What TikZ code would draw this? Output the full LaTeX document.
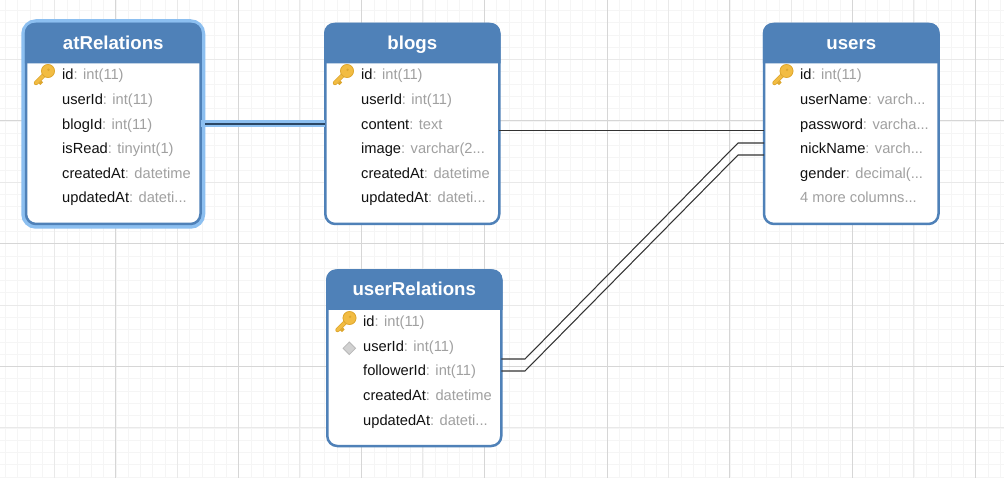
\documentclass[tikz,border=0pt]{standalone}
\usepackage{fontspec}
\setmainfont{Liberation Sans}
\definecolor{tblue}{HTML}{4F81B8}
\definecolor{glow}{HTML}{8CBFF0}
\definecolor{gmaj}{HTML}{D6D6D6}
\definecolor{gmed}{HTML}{E9E9E9}
\definecolor{gmin}{HTML}{F5F5F5}
\definecolor{typec}{HTML}{A0A0A0}
\definecolor{namec}{HTML}{111111}
\definecolor{relc}{HTML}{333333}
\definecolor{keyc}{HTML}{F2BC42}
\definecolor{keyd}{HTML}{DDA62E}
\tikzset{
  tablebox/.style={draw=tblue,line width=2.5pt,fill=white,rounded corners=10pt,inner sep=0pt,outer sep=0pt},
  selectedbox/.style={preaction={draw=glow,line width=9.5pt}},
  headfill/.style={fill=tblue},
  titletext/.style={anchor=base,text=white,font=\fontsize{18.67}{20}\selectfont\bfseries,inner sep=0pt},
  rowtext/.style={anchor=base west,inner sep=0pt,text=namec,font=\fontsize{14.67}{16}\selectfont},
  relline/.style={draw=relc,line width=1.05pt},
  selband/.style={draw=glow,line width=7pt},
  selcore/.style={draw=tblue!55!black,line width=1.8pt,shorten <=4.5pt},
}
% name, left, top, width, height, extra options, title
\newcommand{\dbtable}[7]{%
  \node[tablebox,#6,minimum width=#4pt,minimum height=#5pt] (#1) at ({#2+#4/2},{#3+#5/2}) {};
  \fill[headfill] (#2-1.2,#3+39.5) [rounded corners=10pt] -- (#2-1.2,#3-1.2) -- (#2+#4+1.2,#3-1.2) [sharp corners] -- (#2+#4+1.2,#3+39.5) -- cycle;
  \node[titletext] (#1-title) at ({#2+#4/2},#3+25.3) {#7};
}
% node name, x, baseline y, field, type
\newcommand{\dbrow}[5]{\node[rowtext] (#1) at (#2,#3+.7) {#4\textcolor{typec}{#5}};}
\newcommand{\dbkey}[2]{%
  \begin{scope}[shift={(#1,#2)}]
    \draw[keyd,line width=4.4pt,line cap=round] (0,0) -- (-12,12);
    \draw[keyc,line width=3pt,line cap=round] (0,0) -- (-12,12);
    \fill[keyd] (-9.5,12.5) -- (-6.5,9.5) -- (-5,11.5) -- (-7.5,14) -- cycle;
    \fill[keyc] (0,0) circle (6.8);
    \draw[keyd,line width=.7pt] (0,0) circle (6.5);
    \fill[keyd] (.5,-1.2) circle (1.3);
  \end{scope}
}
\begin{document}
\begin{tikzpicture}[x=1pt,y=-1pt]
\useasboundingbox (0,0) rectangle (1004,478);
\fill[white] (0,0) rectangle (1004,478);
% grid
\foreach \i in {0,...,81} {\draw[gmin,line width=.8pt] ({5.5+12.28*\i},0) -- ({5.5+12.28*\i},478);}
\foreach \i in {0,...,38} {\draw[gmin,line width=.8pt] (0,{10.4+12.28*\i}) -- (1004,{10.4+12.28*\i});}
\foreach \i in {0,...,7} {\draw[gmed,line width=1pt] ({54.3+122.8*\i},0) -- ({54.3+122.8*\i},478);}
\foreach \i in {0,...,3} {\draw[gmed,line width=1pt] (0,{59.5+122.8*\i}) -- (1004,{59.5+122.8*\i});}
\foreach \i in {0,...,7} {\draw[gmaj,line width=.8pt] ({115.7+122.8*\i},0) -- ({115.7+122.8*\i},478);}
\foreach \i in {0,...,2} {\draw[gmaj,line width=.8pt] (0,{120.9+122.8*\i}) -- (1004,{120.9+122.8*\i});}

% tables
\dbtable{atRelations}{26}{24}{174.5}{200}{selectedbox}{atRelations}
\dbtable{blogs}{325.3}{24}{174}{200}{}{blogs}
\dbtable{users}{764}{24}{174.5}{200}{}{users}
\dbtable{userRelations}{327.3}{270.5}{174}{175.5}{}{userRelations}

% connectors
\draw[selband] (atRelations.east |- 0,124) -- (blogs.west |- 0,124);
\draw[selcore] (atRelations.east |- 0,124) -- (blogs.west |- 0,124);
\draw[relline] (blogs.east |- 0,130.5) -- (users.west |- 0,130.5);
\draw[relline] (userRelations.east |- 0,359) -- (525,359) -- (738,143) -- (users.west |- 0,143);
\draw[relline] (userRelations.east |- 0,371) -- (525,371) -- (738,155) -- (users.west |- 0,155);

% atRelations rows
\dbkey{48}{71}
\dbrow{at1}{62}{79}{id}{: int(11)}
\dbrow{at2}{62}{104}{userId}{: int(11)}
\dbrow{at3}{62}{129}{blogId}{: int(11)}
\dbrow{at4}{62}{153}{isRead}{: tinyint(1)}
\dbrow{at5}{62}{178}{createdAt}{: datetime}
\dbrow{at6}{62}{202}{updatedAt}{: dateti...}
% blogs rows
\dbkey{347}{71}
\dbrow{bl1}{361}{79}{id}{: int(11)}
\dbrow{bl2}{361}{104}{userId}{: int(11)}
\dbrow{bl3}{361}{129}{content}{: text}
\dbrow{bl4}{361}{153}{image}{: varchar(2...}
\dbrow{bl5}{361}{178}{createdAt}{: datetime}
\dbrow{bl6}{361}{202}{updatedAt}{: dateti...}
% users rows
\dbkey{786.5}{71}
\dbrow{us1}{800}{79}{id}{: int(11)}
\dbrow{us2}{800}{104}{userName}{: varch...}
\dbrow{us3}{800}{129}{password}{: varcha...}
\dbrow{us4}{800}{153}{nickName}{: varch...}
\dbrow{us5}{800}{178}{gender}{: decimal(...}
\dbrow{us6}{800}{202}{\textcolor{typec}{4 more columns...}}{}
% userRelations rows
\dbkey{349.5}{318}
\fill[black!18,draw=black!28,line width=.8pt] (349.3,342) -- (355.5,348.3) -- (349.3,354.6) -- (343.1,348.3) -- cycle;
\dbrow{ur1}{363}{326}{id}{: int(11)}
\dbrow{ur2}{363}{351}{userId}{: int(11)}
\dbrow{ur3}{363}{375}{followerId}{: int(11)}
\dbrow{ur4}{363}{400}{createdAt}{: datetime}
\dbrow{ur5}{363}{425}{updatedAt}{: dateti...}
\end{tikzpicture}
\end{document}
